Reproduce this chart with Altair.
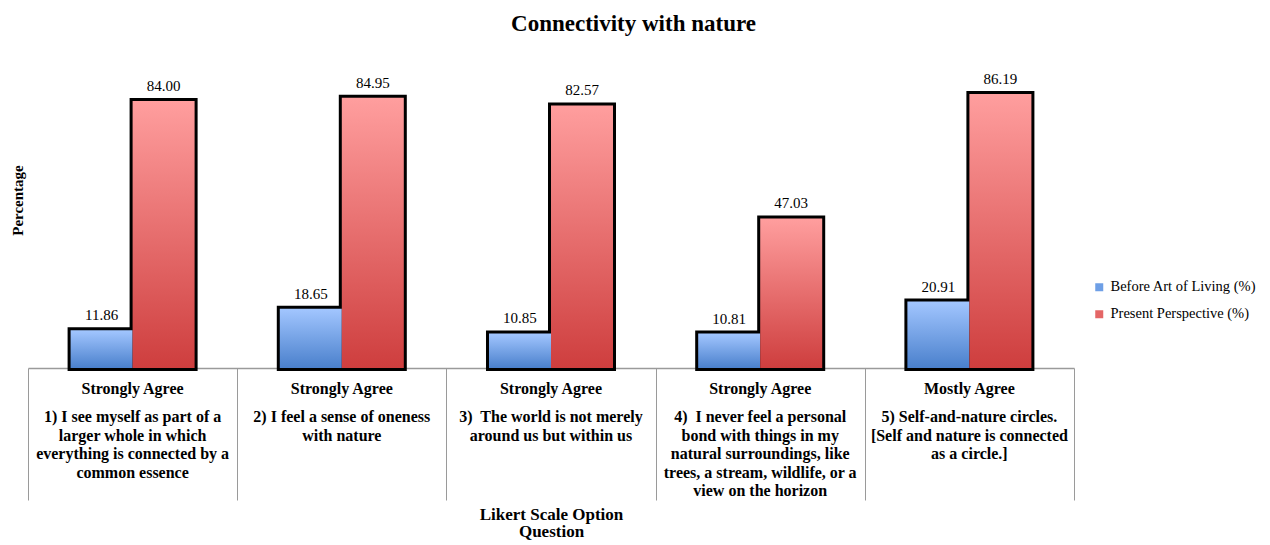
import altair as alt
import pandas as pd

# ---- data ----
qids = ["1", "2", "3", "4", "5"]
options = ["Strongly Agree", "Strongly Agree", "Strongly Agree", "Strongly Agree", "Mostly Agree"]
questions = [
    "1) I see myself as part of a\nlarger whole in which\neverything is connected by a\ncommon essence",
    "2) I feel a sense of oneness\nwith nature",
    "3)\u00a0 The world is not merely\naround us but within us",
    "4)\u00a0 I never feel a personal\nbond with things in my\nnatural surroundings, like\ntrees, a stream, wildlife, or a\nview on the horizon",
    "5) Self-and-nature circles.\n[Self and nature is connected\nas a circle.]",
]
series = ["Before Art of Living (%)", "Present Perspective (%)"]
before = [11.86, 18.65, 10.85, 10.81, 20.91]
present = [84.00, 84.95, 82.57, 47.03, 86.19]

rows = []
for i, q in enumerate(qids):
    rows.append({"qid": q, "series": series[0], "value": before[i]})
    rows.append({"qid": q, "series": series[1], "value": present[i]})
df = pd.DataFrame(rows)
cat_df = pd.DataFrame({"qid": qids, "option": options, "question": questions})

FONT = "Liberation Serif"
W, H = 1046, 318

blue_grad = {"gradient": "linear", "x1": 0, "y1": 0, "x2": 0, "y2": 1,
             "stops": [{"offset": 0, "color": "#A2C6FF"}, {"offset": 1, "color": "#4A80CC"}]}
red_grad = {"gradient": "linear", "x1": 0, "y1": 0, "x2": 0, "y2": 1,
            "stops": [{"offset": 0, "color": "#FF9E9E"}, {"offset": 1, "color": "#CE3E3E"}]}

x = alt.X("qid:N", sort=qids, scale=alt.Scale(paddingInner=0, paddingOuter=0),
          axis=alt.Axis(title=["Likert Scale Option", "Question"], labels=False, ticks=True,
                        tickSize=132, tickBand="extent", tickColor="#9a9a9a", tickWidth=1,
                        domainColor="#9a9a9a", domainWidth=1.5, grid=False,
                        titleFont=FONT, titleFontSize=17, titleFontWeight="bold",
                        titleColor="black", titlePadding=6, titleLineHeight=17))
xo = alt.XOffset("series:N", sort=series,
                 scale=alt.Scale(domain=series, paddingInner=0, paddingOuter=0.687))
y = alt.Y("value:Q", scale=alt.Scale(domain=[0, 100]),
          axis=alt.Axis(title="Percentage", domain=False, ticks=False, labels=False, grid=False,
                        titleFont=FONT, titleFontSize=15, titleFontWeight="bold",
                        titleColor="black", titlePadding=3, titleY=150))

base = alt.Chart(df)

legend_bars = base.mark_bar().encode(
    x=x, xOffset=xo, y=y,
    color=alt.Color("series:N", sort=series,
                    scale=alt.Scale(domain=series, range=["#6E9FE6", "#E46666"]),
                    legend=alt.Legend(orient="none", legendX=1064, legendY=230, title=None,
                                      labelFont=FONT, labelFontSize=14.5, labelColor="black",
                                      symbolType="square", symbolSize=64, rowPadding=12,
                                      symbolStrokeWidth=0)),
)

black_bars = base.mark_bar(color="black", stroke="black", strokeWidth=6).encode(
    x=x, xOffset=xo, y=y)

blue_bars = base.transform_filter(alt.datum.series == series[0]).mark_bar(color=blue_grad).encode(
    x=x, xOffset=xo, y=y)
red_bars = base.transform_filter(alt.datum.series == series[1]).mark_bar(color=red_grad).encode(
    x=x, xOffset=xo, y=y)

values = base.mark_text(baseline="bottom", dy=-7, font=FONT, fontSize=15, color="black").encode(
    x=x, xOffset=xo, y=y, text=alt.Text("value:Q", format=".2f"))

opt_text = alt.Chart(cat_df).mark_text(baseline="middle", font=FONT, fontSize=16,
                                       fontWeight="bold", color="black").encode(
    x=x, y=alt.value(H + 21), text="option:N")

q_text = alt.Chart(cat_df).mark_text(baseline="top", font=FONT, fontSize=16, fontWeight="bold",
                                     color="black", lineBreak="\n", lineHeight=18.5).encode(
    x=x, y=alt.value(H + 41), text="question:N")

chart = alt.layer(legend_bars, black_bars, blue_bars, red_bars, values, opt_text, q_text).properties(
    width=W, height=H,
    title=alt.TitleParams("Connectivity with nature", font=FONT, fontSize=23, fontWeight="bold",
                          color="black", anchor="middle", frame="bounds", offset=14),
    autosize=alt.AutoSizeParams(type="none"),
    padding={"left": 20, "top": 42, "right": 188, "bottom": 175},
).configure_view(stroke=None)

chart.save("out.html", embed_options={"renderer": "svg", "actions": False})
